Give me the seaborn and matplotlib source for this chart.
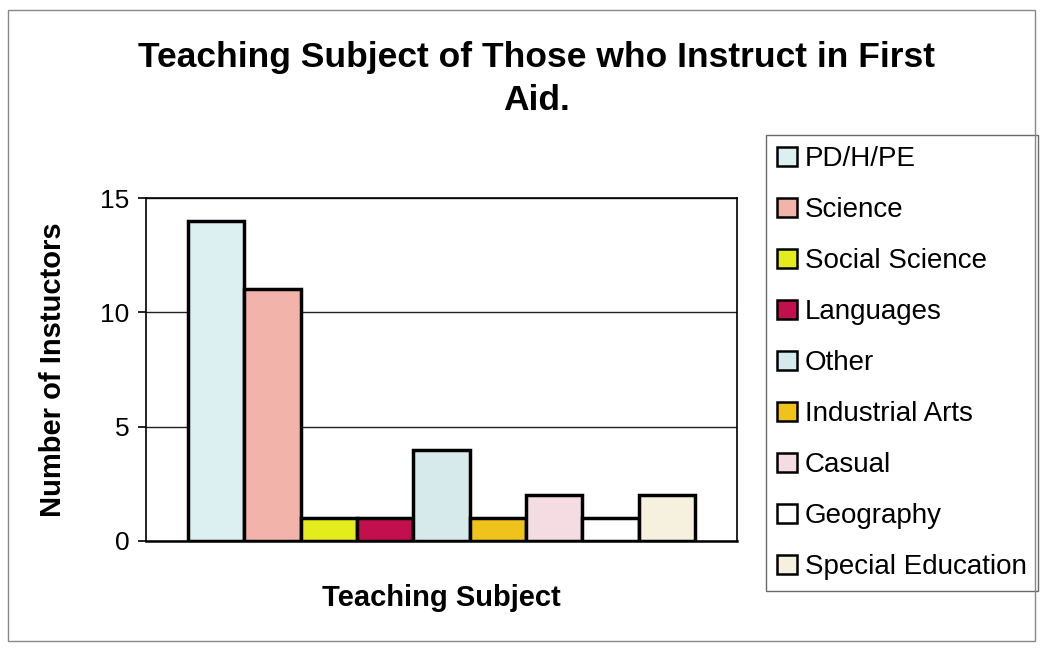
import matplotlib
matplotlib.use("Agg")
import matplotlib.pyplot as plt
import seaborn as sns
import pandas as pd
from matplotlib.patches import Rectangle

# --- Data ---
subjects = ["PD/H/PE", "Science", "Social Science", "Languages", "Other",
            "Industrial Arts", "Casual", "Geography", "Special Education"]
counts = [14, 11, 1, 1, 4, 1, 2, 1, 2]
colors = ["#dcf0f2", "#f2b4aa", "#e4ec1c", "#c2104e", "#d6eaec",
          "#f0c21c", "#f4dce2", "#ffffff", "#f6f0de"]

df = pd.DataFrame({"subject": subjects, "count": counts})

sns.set_style("white")
plt.rcParams["font.family"] = ["Liberation Sans", "DejaVu Sans"]
plt.rcParams["text.color"] = "black"
plt.rcParams["axes.labelcolor"] = "black"
plt.rcParams["ytick.color"] = "black"

fig = plt.figure(figsize=(10.43, 6.49), dpi=100)
ax = fig.add_axes([146 / 1043, 1 - 541 / 649, (737 - 146) / 1043, (541 - 198) / 649])

sns.barplot(data=df, x="subject", y="count", hue="subject", palette=colors,
            width=1.0, edgecolor="black", linewidth=2.5, legend=True, ax=ax,
            saturation=1)

ax.set_xlim(-1.25, 9.25)
ax.set_ylim(0, 15)
ax.set_yticks([0, 5, 10, 15])
ax.set_xticks([])
ax.yaxis.grid(True, color="#222222", linewidth=1)
ax.set_axisbelow(True)
for side in ["left", "bottom", "top", "right"]:
    ax.spines[side].set_visible(True)
    ax.spines[side].set_color("black")
    ax.spines[side].set_linewidth(1.2)
ax.spines["bottom"].set_linewidth(1.8)
ax.tick_params(axis="y", direction="out", length=6, width=1.2, labelsize=19,
               left=True, pad=6)

ax.set_xlabel("Teaching Subject", fontsize=21, fontweight="bold", labelpad=31)
ax.set_ylabel("Number of Instuctors", fontsize=21, fontweight="bold", labelpad=24)

fig.text(537 / 1043, 1 - 57 / 649, "Teaching Subject of Those who Instruct in First",
         ha="center", va="center", fontsize=25.5, fontweight="bold")
fig.text(537 / 1043, 1 - 101 / 649, "Aid.",
         ha="center", va="center", fontsize=25.5, fontweight="bold")

leg = ax.legend(loc="upper left", bbox_to_anchor=(766 / 1043, 1 - 135 / 649),
                bbox_transform=fig.transFigure, frameon=True, fancybox=False,
                fontsize=20, handlelength=0.7, handleheight=0.7,
                handletextpad=0.3, labelspacing=0.9, borderpad=0.4,
                borderaxespad=0, edgecolor="#444444")
leg.get_frame().set_linewidth(1.0)
for h in leg.legend_handles:
    h.set_edgecolor("black")
    h.set_linewidth(1.8)

# outer chart border
fig.patches.append(Rectangle((8 / 1043, 8 / 649), 1 - 16 / 1043, 1 - 18 / 649,
                             transform=fig.transFigure, fill=False,
                             edgecolor="#888888", linewidth=1))

fig.savefig("out.png", dpi=100)
